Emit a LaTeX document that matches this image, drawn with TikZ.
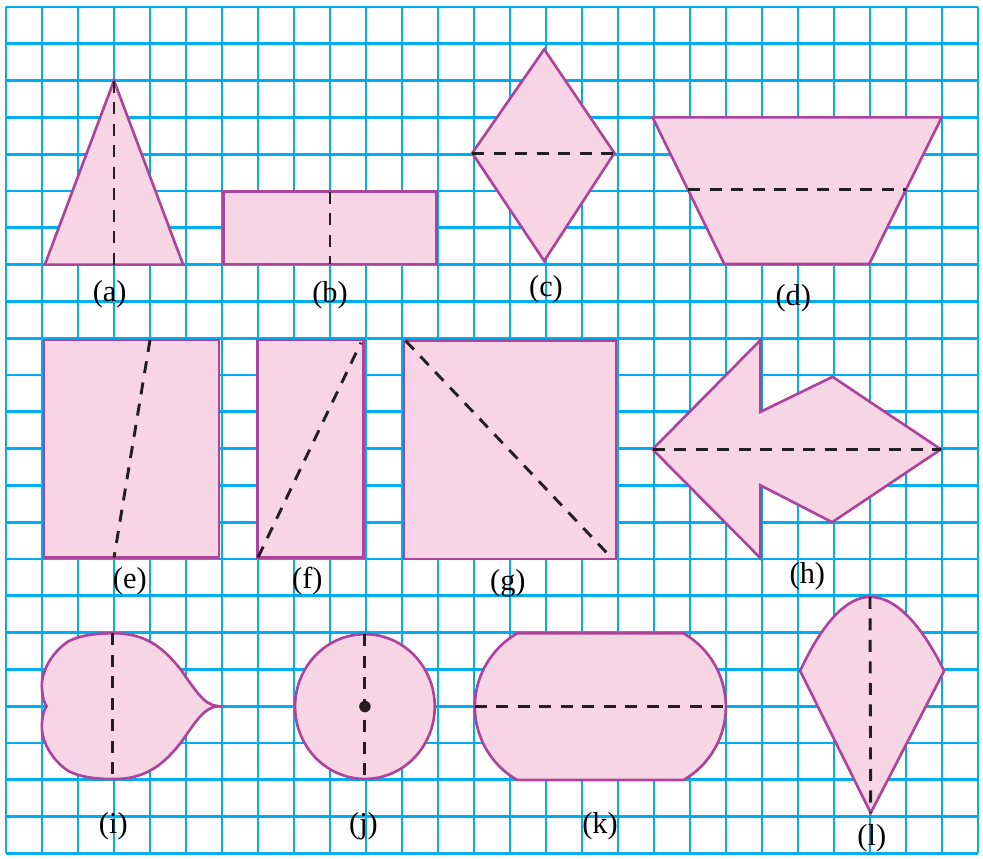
\documentclass[tikz,border=0pt]{standalone}
\usepackage{fontspec}
\setmainfont{Liberation Serif}
\usepackage{xcolor}
\definecolor{gridcolor}{RGB}{0,174,239}
\definecolor{edgecolor}{RGB}{172,68,156}
\definecolor{shapefill}{RGB}{248,213,228}
\definecolor{cutcolor}{RGB}{35,31,32}

\begin{document}
\begin{tikzpicture}[x=1cm, y=-1.0222cm,
    gridline/.style={gridcolor, line width=2.3pt},
    piece/.style={draw=edgecolor, fill=shapefill, line width=2.1pt, line join=miter},
    foldline/.style={cutcolor, line width=2.3pt, dash pattern=on 9.5pt off 7.5pt},
    figlabel/.style={font=\fontsize{24}{28}\selectfont, inner sep=0pt}
]
\useasboundingbox (-0.1667,-0.1902) rectangle (27.139,23.152);

% Grid
\foreach \i in {0,...,27} \draw[gridline] (\i,0) -- (\i,23);
\foreach \j in {0,...,23} \draw[gridline] (0,\j) -- (27,\j);

% (a) triangle
\draw[piece] (3,2) -- (4.92,7) -- (1.08,7) -- cycle;
\draw[foldline] (3,2) -- (3,7);
\node[figlabel] (lbla) at (2.88,7.8) {(a)};

% (b) rectangle
\draw[piece] (6.05,5.02) rectangle (11.95,6.98);
\draw[foldline] (9,5.02) -- (9,6.98);
\node[figlabel] (lblb) at (9,7.83) {(b)};

% (c) rhombus
\draw[piece] (14.95,1.15) -- (16.9,3.97) -- (14.95,6.9) -- (12.95,3.97) -- cycle;
\draw[foldline] (12.95,3.97) -- (16.9,3.97);
\node[figlabel] (lblc) at (15,7.67) {(c)};

% (d) trapezium
\draw[piece] (17.96,3) -- (25.99,3) -- (23.98,6.98) -- (19.95,6.98) -- cycle;
\draw[foldline] (18.95,4.97) -- (24.99,4.97);
\node[figlabel] (lbld) at (21.87,7.9) {(d)};

% (e) rectangle
\draw[piece] (1.06,9.05) rectangle (5.92,14.96);
\draw[foldline] (4,9.05) -- (3,14.96);
\node[figlabel] (lble) at (3.44,15.6) {(e)};

% (f) rectangle
\draw[piece] (6.98,9.05) rectangle (9.93,14.96);
\draw[foldline] (7,14.96) -- (9.86,9.12);
\node[figlabel] (lblf) at (8.37,15.6) {(f)};

% (g) square
\draw[piece] (11.06,9.07) rectangle (16.94,15);
\draw[foldline] (11.1,9.07) -- (16.85,15);
\node[figlabel] (lblg) at (13.94,15.65) {(g)};

% (h) arrow
\draw[piece] (17.96,12.02) -- (20.96,9.05) -- (20.96,11) -- (22.96,10.05)
    -- (25.97,12.02) -- (22.95,14) -- (20.96,13) -- (20.96,14.98) -- cycle;
\draw[foldline] (17.96,12.02) -- (25.97,12.02);
\node[figlabel] (lblh) at (22.26,15.48) {(h)};

% (i) heart
\draw[piece] (2.95,17.02) .. controls (3.9,17.0) and (4.4,17.45) .. (4.85,18.0)
    .. controls (5.25,18.55) and (5.5,18.98) .. (5.9,19.0)
    .. controls (5.5,19.02) and (5.25,19.45) .. (4.85,20.0)
    .. controls (4.4,20.55) and (3.9,21.0) .. (2.95,20.98)
    .. controls (2.4,20.98) and (2.0,20.9) .. (1.73,20.76)
    .. controls (1.25,20.45) and (0.95,19.9) .. (1.0,19.45)
    .. controls (1.02,19.2) and (1.08,19.05) .. (1.13,19.0)
    .. controls (1.08,18.95) and (1.02,18.8) .. (1.0,18.55)
    .. controls (0.95,18.1) and (1.25,17.55) .. (1.73,17.24)
    .. controls (2.0,17.1) and (2.4,17.02) .. (2.95,17.02) -- cycle;
\draw[foldline] (2.95,17.02) -- (2.95,20.98);
\node[figlabel] (lbli) at (2.98,22.27) {(i)};

% (j) circle
\draw[piece] (9.97,19.01) ellipse [x radius=1.94cm, y radius=2.01cm];
\draw[foldline] (9.97,17.04) -- (9.97,20.98);
\fill[cutcolor] (9.97,19.01) circle [radius=0.16cm];
\node[figlabel] (lblj) at (9.93,22.27) {(j)};

% (k) barrel
\draw[piece] (14.2,17.02) -- (18.82,17.02)
    arc [start angle=60, end angle=-60, radius=2.353cm] -- (14.2,21.007)
    arc [start angle=240, end angle=120, radius=2.353cm] -- cycle;
\draw[foldline] (13.02,19.01) -- (20,19.01);
\node[figlabel] (lblk) at (16.5,22.27) {(k)};

% (l) kite with curved top
\draw[piece] (22.06,18.04) parabola bend (24,16.03) (26.06,18.04) -- (24.02,21.9) -- cycle;
\draw[foldline] (24,16.03) -- (24.02,21.9);
\node[figlabel] (lbll) at (24.05,22.6) {(l)};

\end{tikzpicture}
\end{document}
